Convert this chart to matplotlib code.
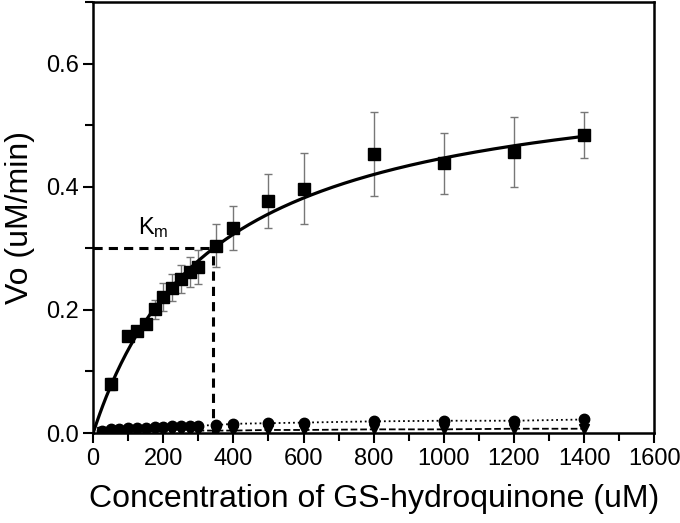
import numpy as np
import matplotlib

matplotlib.use("Agg")
import matplotlib.pyplot as plt
from matplotlib.ticker import MultipleLocator

plt.rcParams["font.family"] = ["Liberation Sans", "DejaVu Sans"]
plt.rcParams["mathtext.default"] = "regular"

# Squares: wild-type activity with error bars
sq_x = [50, 100, 125, 150, 175, 200, 225, 250, 275, 300, 350, 400, 500, 600, 800, 1000, 1200, 1400]
sq_y = [0.080, 0.157, 0.165, 0.177, 0.201, 0.221, 0.236, 0.250, 0.262, 0.270, 0.304, 0.333,
        0.377, 0.397, 0.453, 0.438, 0.456, 0.484]
sq_err = [0.010, 0.004, 0.004, 0.006, 0.015, 0.022, 0.022, 0.023, 0.024, 0.028, 0.035, 0.035,
          0.044, 0.058, 0.068, 0.050, 0.057, 0.038]

# Circles (dotted) and down-triangles (dashed) near zero
ci_x = [25, 50, 75, 100, 125, 150, 175, 200, 225, 250, 275, 300, 350, 400, 500, 600, 800, 1000, 1200, 1400]
ci_y = [0.004, 0.006, 0.007, 0.008, 0.008, 0.009, 0.010, 0.010, 0.011, 0.011, 0.012, 0.012,
        0.013, 0.015, 0.016, 0.017, 0.019, 0.020, 0.020, 0.022]
tr_x = [25, 50, 75, 100, 125, 150, 175, 200, 225, 250, 275, 300, 350, 400, 500, 600, 800, 1000, 1200, 1400]
tr_y = [0.001, 0.002, 0.002, 0.002, 0.003, 0.003, 0.003, 0.003, 0.003, 0.004, 0.004, 0.004,
        0.004, 0.004, 0.005, 0.005, 0.006, 0.006, 0.007, 0.007]

# Michaelis-Menten fit parameters
vmax = 0.60
km = 343

fig = plt.figure(figsize=(6.8, 5.23), dpi=100)
ax = fig.add_axes([0.137, 0.172, 0.825, 0.824])

s = np.linspace(0, 1400, 300)
ax.plot(s, vmax * s / (km + s), color="black", lw=2.3, zorder=3)

ax.errorbar(sq_x, sq_y, yerr=sq_err, fmt="none", ecolor="#777777", elinewidth=1.0,
            capsize=3, capthick=1.0, zorder=2)
ax.plot(sq_x, sq_y, ls="none", marker="s", ms=8.5, color="black", zorder=4)

ax.plot(ci_x, ci_y, ls=":", lw=1.3, marker="o", ms=7.5, color="black", zorder=4)
ax.plot(tr_x, tr_y, ls="--", lw=1.3, marker="v", ms=7, color="black", zorder=4)

# Km guide lines
ax.plot([0, km], [vmax / 2, vmax / 2], ls=(0, (3, 2)), lw=2.2, color="black", zorder=1)
ax.plot([km, km], [0, vmax / 2], ls=(0, (3, 2)), lw=2.2, color="black", zorder=1)
ax.text(128, 0.313, "K$_m$", fontsize=17, ha="left", va="bottom")

ax.set_xlim(0, 1600)
ax.set_ylim(0, 0.70)
ax.xaxis.set_major_locator(MultipleLocator(200))
ax.xaxis.set_minor_locator(MultipleLocator(100))
ax.yaxis.set_major_locator(MultipleLocator(0.2))
ax.yaxis.set_minor_locator(MultipleLocator(0.1))
ax.yaxis.set_major_formatter(lambda v, p: f"{v:.1f}")
ax.tick_params(which="both", direction="out", width=1.5, labelsize=17)
ax.tick_params(which="major", length=7)
ax.tick_params(which="minor", length=6)
for sp in ax.spines.values():
    sp.set_linewidth(1.8)

ax.set_xlabel("Concentration of GS-hydroquinone (uM)", fontsize=23, labelpad=10)
ax.set_ylabel("Vo (uM/min)", fontsize=23, labelpad=8)

fig.savefig("out.png", dpi=100)
